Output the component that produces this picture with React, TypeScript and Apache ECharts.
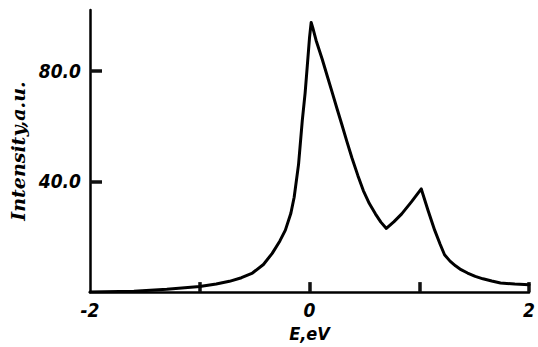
import React, { useEffect, useRef } from "react";
import * as echarts from "echarts";

const energy = [-2, -1.6, -1.3, -1.0, -0.85, -0.73, -0.62, -0.52, -0.42, -0.34, -0.27, -0.22, -0.17, -0.14, -0.1, -0.066, -0.04, -0.02, 0.0, 0.015, 0.03, 0.06, 0.115, 0.16, 0.205, 0.25, 0.295, 0.34, 0.386, 0.44, 0.49, 0.545, 0.6, 0.65, 0.7, 0.77, 0.84, 0.93, 1.018, 1.08, 1.14, 1.19, 1.23, 1.28, 1.33, 1.38, 1.44, 1.51, 1.58, 1.66, 1.74, 1.87, 2.0];
const intensity = [0, 0.3, 1.0, 2.0, 2.9, 3.9, 5.2, 6.9, 10.0, 14.0, 18.5, 22.4, 28.5, 34.3, 46.2, 62, 72, 82, 92, 97.5, 95.5, 91, 84.3, 78.3, 72.4, 66.4, 60.5, 54.5, 48.6, 42.2, 36.7, 32.0, 28.3, 25.3, 23, 25.5, 28.3, 32.7, 37.3, 29.5, 22.4, 17.3, 13.5, 11.2, 9.5, 8.1, 6.9, 5.7, 4.8, 4.0, 3.3, 2.9, 2.7];
const yTickValues = [40, 80];
const xLabelValues = [-2, 0, 2];
const xTickValues = [-1, 0, 1, 2];

const labelFont = {
  fontFamily: "DejaVu Sans Condensed, DejaVu Sans",
  fontStyle: "italic" as const,
  fontWeight: "bold" as const,
  color: "#000",
};

export default function App() {
  const ref = useRef<HTMLDivElement>(null);
  useEffect(() => {
    if (!ref.current) return;
    const chart = echarts.init(ref.current, undefined, { renderer: "svg" });
    chart.setOption({
      animation: false,
      backgroundColor: "#fff",
      grid: { left: 87, right: 8, top: 10, bottom: 51, containLabel: false },
      xAxis: {
        type: "value",
        min: -2,
        max: 2,
        interval: 1,
        name: "E,eV",
        nameLocation: "middle",
        nameGap: 30,
        nameTextStyle: { ...labelFont, fontSize: 18 },
        axisLine: { show: true, onZero: false, lineStyle: { color: "#000", width: 2.5 } },
        axisTick: { show: true, inside: true, length: 10, customValues: xTickValues, lineStyle: { color: "#111", width: 3.5 } },
        axisLabel: {
          ...labelFont,
          fontSize: 19,
          margin: 8,
          customValues: xLabelValues,
          formatter: (v: number) => String(v),
        },
        splitLine: { show: false },
      },
      yAxis: {
        type: "value",
        min: 0,
        max: 102,
        interval: 40,
        name: "Intensity,a.u.",
        nameLocation: "middle",
        nameGap: 63,
        nameRotate: 90,
        nameTextStyle: {
          fontFamily: "DejaVu Serif",
          fontStyle: "italic",
          fontWeight: "bold",
          fontSize: 19,
          color: "#000",
        },
        axisLine: { show: true, onZero: false, lineStyle: { color: "#000", width: 2.5 } },
        axisTick: { show: true, inside: true, length: 12, customValues: yTickValues, lineStyle: { color: "#111", width: 3.5 } },
        axisLabel: {
          ...labelFont,
          fontSize: 19,
          margin: 9,
          customValues: yTickValues,
          formatter: (v: number) => v.toFixed(1),
        },
        splitLine: { show: false },
      },
      series: [
        {
          type: "line",
          data: energy.map((e, i) => [e, intensity[i]]),
          showSymbol: false,
          smooth: false,
          lineStyle: { color: "#000", width: 3, join: "round", cap: "round" },
        },
      ],
    });
    return () => chart.dispose();
  }, []);
  return <div ref={ref} style={{ width: 538, height: 347, position: "absolute", left: 0, top: 0 }} />;
}
